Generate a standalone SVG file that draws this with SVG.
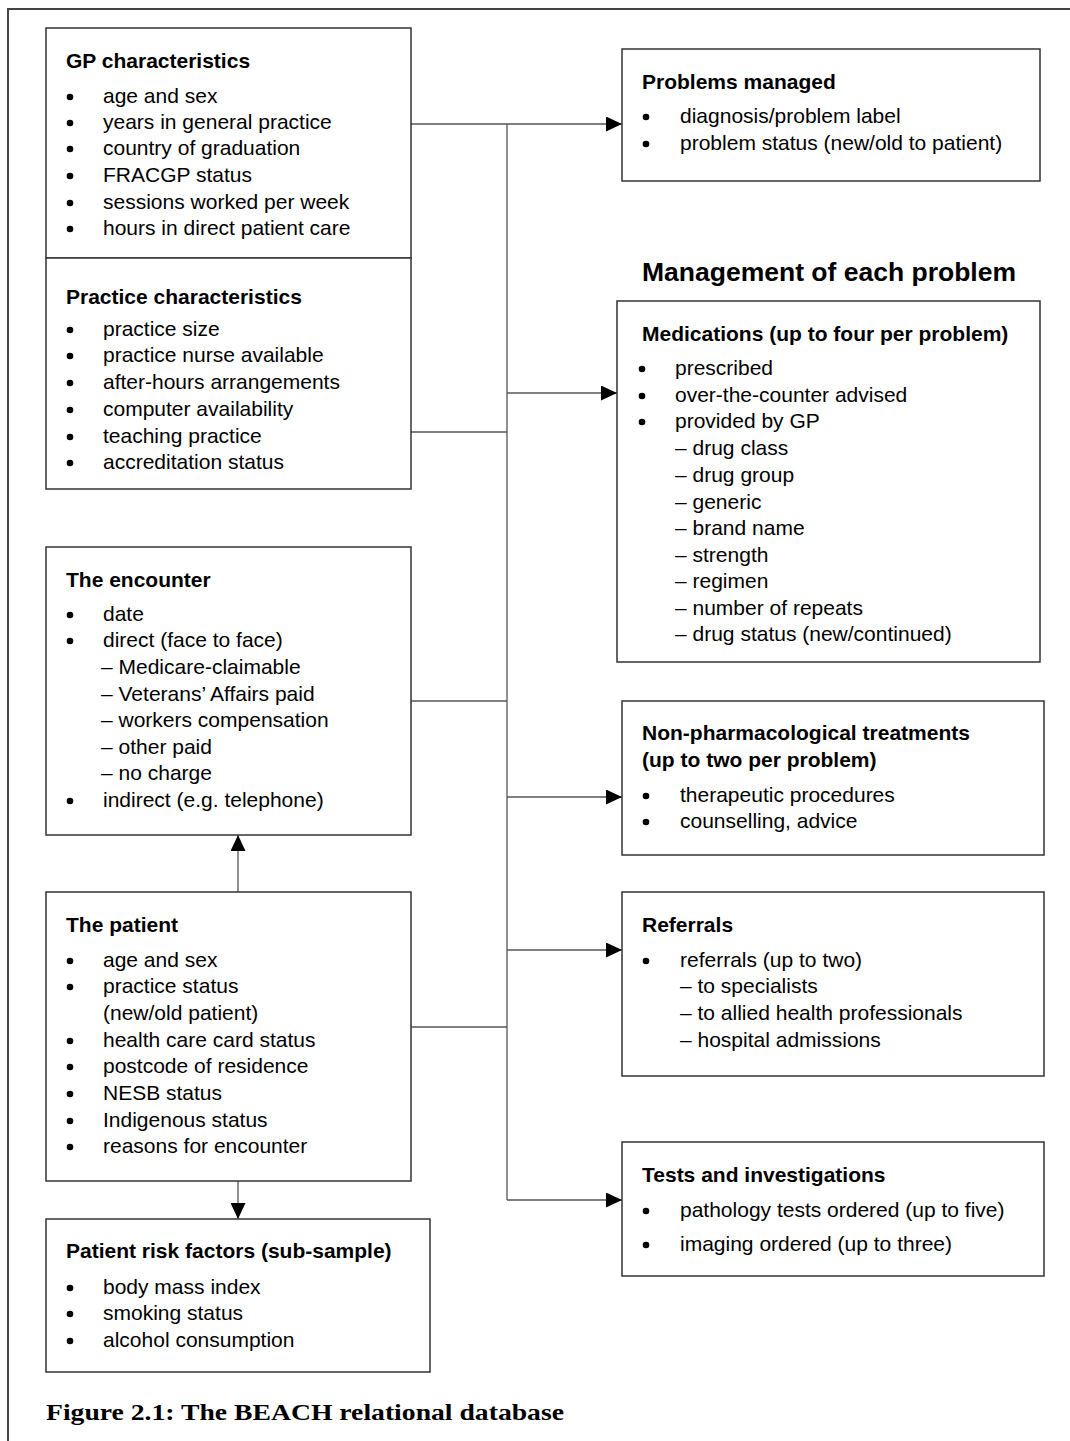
<svg xmlns="http://www.w3.org/2000/svg" width="1070" height="1441" viewBox="0 0 1070 1441">
<style>
.box{fill:#fff;stroke:#333;stroke-width:1.5}
.frame{fill:none;stroke:#444;stroke-width:2}
.h{font-family:"Liberation Sans",Arial,sans-serif;font-size:21px;font-weight:bold;fill:#000}
.t{font-family:"Liberation Sans",Arial,sans-serif;font-size:21px;fill:#000}
.big{font-family:"Liberation Sans",Arial,sans-serif;font-size:26.5px;font-weight:bold;fill:#000}
.cap{font-family:"Liberation Serif","Times New Roman",serif;font-size:23px;font-weight:bold;fill:#000}
.c{fill:none;stroke:#555;stroke-width:1.3}
circle{fill:#000}
</style>
<defs>
<marker id="ah" markerUnits="userSpaceOnUse" markerWidth="16" markerHeight="15" refX="16" refY="7.5" orient="auto">
<path d="M0,0 L16,7.5 L0,15 z" fill="#000"/>
</marker>
</defs>
<path class="frame" d="M8,1441 V9 H1070"/>

<g id="connectors">
<path class="c" d="M411,124 H622" marker-end="url(#ah)"/>
<path class="c" d="M507,124 V1200"/>
<path class="c" d="M411,432 H507"/>
<path class="c" d="M411,701 H507"/>
<path class="c" d="M411,1027 H507"/>
<path class="c" d="M507,393 H617" marker-end="url(#ah)"/>
<path class="c" d="M507,797 H622" marker-end="url(#ah)"/>
<path class="c" d="M507,950 H622" marker-end="url(#ah)"/>
<path class="c" d="M507,1200 H622" marker-end="url(#ah)"/>
<path class="c" d="M238,892 V835" marker-end="url(#ah)"/>
<path class="c" d="M238,1181 V1219" marker-end="url(#ah)"/>
</g>

<g id="gp">
<rect class="box" x="46" y="28" width="365" height="230"/>
<text class="h" x="66" y="68">GP characteristics</text>
<circle cx="70" cy="97" r="3.3"/><text class="t" x="103" y="103">age and sex</text>
<circle cx="70" cy="123" r="3.3"/><text class="t" x="103" y="129">years in general practice</text>
<circle cx="70" cy="149" r="3.3"/><text class="t" x="103" y="155">country of graduation</text>
<circle cx="70" cy="176" r="3.3"/><text class="t" x="103" y="182">FRACGP status</text>
<circle cx="70" cy="203" r="3.3"/><text class="t" x="103" y="209">sessions worked per week</text>
<circle cx="70" cy="229" r="3.3"/><text class="t" x="103" y="235">hours in direct patient care</text>
</g>

<g id="practice">
<rect class="box" x="46" y="258" width="365" height="231"/>
<text class="h" x="66" y="304">Practice characteristics</text>
<circle cx="70" cy="330" r="3.3"/><text class="t" x="103" y="336">practice size</text>
<circle cx="70" cy="356" r="3.3"/><text class="t" x="103" y="362">practice nurse available</text>
<circle cx="70" cy="383" r="3.3"/><text class="t" x="103" y="389">after-hours arrangements</text>
<circle cx="70" cy="410" r="3.3"/><text class="t" x="103" y="416">computer availability</text>
<circle cx="70" cy="437" r="3.3"/><text class="t" x="103" y="443">teaching practice</text>
<circle cx="70" cy="463" r="3.3"/><text class="t" x="103" y="469">accreditation status</text>
</g>

<g id="problems">
<rect class="box" x="622" y="49" width="418" height="132"/>
<text class="h" x="642" y="89">Problems managed</text>
<circle cx="646" cy="117" r="3.3"/><text class="t" x="680" y="123">diagnosis/problem label</text>
<circle cx="646" cy="144" r="3.3"/><text class="t" x="680" y="150">problem status (new/old to patient)</text>
</g>

<text id="management-heading" class="big" x="642" y="281">Management of each problem</text>

<g id="medications">
<rect class="box" x="617" y="301" width="423" height="361"/>
<text class="h" x="642" y="341">Medications (up to four per problem)</text>
<circle cx="642" cy="369" r="3.3"/><text class="t" x="675" y="375">prescribed</text>
<circle cx="642" cy="396" r="3.3"/><text class="t" x="675" y="402">over-the-counter advised</text>
<circle cx="642" cy="422" r="3.3"/><text class="t" x="675" y="428">provided by GP</text>
<text class="t" x="675" y="455">– drug class</text>
<text class="t" x="675" y="482">– drug group</text>
<text class="t" x="675" y="509">– generic</text>
<text class="t" x="675" y="535">– brand name</text>
<text class="t" x="675" y="562">– strength</text>
<text class="t" x="675" y="588">– regimen</text>
<text class="t" x="675" y="615">– number of repeats</text>
<text class="t" x="675" y="641">– drug status (new/continued)</text>
</g>

<g id="encounter">
<rect class="box" x="46" y="547" width="365" height="288"/>
<text class="h" x="66" y="587">The encounter</text>
<circle cx="70" cy="615" r="3.3"/><text class="t" x="103" y="621">date</text>
<circle cx="70" cy="641" r="3.3"/><text class="t" x="103" y="647">direct (face to face)</text>
<text class="t" x="101" y="674">– Medicare-claimable</text>
<text class="t" x="101" y="701">– Veterans’ Affairs paid</text>
<text class="t" x="101" y="727">– workers compensation</text>
<text class="t" x="101" y="754">– other paid</text>
<text class="t" x="101" y="780">– no charge</text>
<circle cx="70" cy="801" r="3.3"/><text class="t" x="103" y="807">indirect (e.g. telephone)</text>
</g>

<g id="nonpharm">
<rect class="box" x="622" y="701" width="422" height="154"/>
<text class="h" x="642" y="740">Non-pharmacological treatments</text>
<text class="h" x="642" y="767">(up to two per problem)</text>
<circle cx="646" cy="796" r="3.3"/><text class="t" x="680" y="802">therapeutic procedures</text>
<circle cx="646" cy="822" r="3.3"/><text class="t" x="680" y="828">counselling, advice</text>
</g>

<g id="patient">
<rect class="box" x="46" y="892" width="365" height="289"/>
<text class="h" x="66" y="932">The patient</text>
<circle cx="70" cy="961" r="3.3"/><text class="t" x="103" y="967">age and sex</text>
<circle cx="70" cy="987" r="3.3"/><text class="t" x="103" y="993">practice status</text>
<text class="t" x="103" y="1020">(new/old patient)</text>
<circle cx="70" cy="1041" r="3.3"/><text class="t" x="103" y="1047">health care card status</text>
<circle cx="70" cy="1067" r="3.3"/><text class="t" x="103" y="1073">postcode of residence</text>
<circle cx="70" cy="1094" r="3.3"/><text class="t" x="103" y="1100">NESB status</text>
<circle cx="70" cy="1121" r="3.3"/><text class="t" x="103" y="1127">Indigenous status</text>
<circle cx="70" cy="1147" r="3.3"/><text class="t" x="103" y="1153">reasons for encounter</text>
</g>

<g id="referrals">
<rect class="box" x="622" y="892" width="422" height="184"/>
<text class="h" x="642" y="932">Referrals</text>
<circle cx="646" cy="961" r="3.3"/><text class="t" x="680" y="967">referrals (up to two)</text>
<text class="t" x="680" y="993">– to specialists</text>
<text class="t" x="680" y="1020">– to allied health professionals</text>
<text class="t" x="680" y="1047">– hospital admissions</text>
</g>

<g id="tests">
<rect class="box" x="622" y="1142" width="422" height="134"/>
<text class="h" x="642" y="1182">Tests and investigations</text>
<circle cx="646" cy="1211" r="3.3"/><text class="t" x="680" y="1217">pathology tests ordered (up to five)</text>
<circle cx="646" cy="1245" r="3.3"/><text class="t" x="680" y="1251">imaging ordered (up to three)</text>
</g>

<g id="risk">
<rect class="box" x="46" y="1219" width="384" height="153"/>
<text class="h" x="66" y="1258">Patient risk factors (sub-sample)</text>
<circle cx="70" cy="1288" r="3.3"/><text class="t" x="103" y="1294">body mass index</text>
<circle cx="70" cy="1314" r="3.3"/><text class="t" x="103" y="1320">smoking status</text>
<circle cx="70" cy="1341" r="3.3"/><text class="t" x="103" y="1347">alcohol consumption</text>
</g>

<text id="caption" class="cap" x="46" y="1420" textLength="518" lengthAdjust="spacingAndGlyphs">Figure 2.1: The BEACH relational database</text>
</svg>
